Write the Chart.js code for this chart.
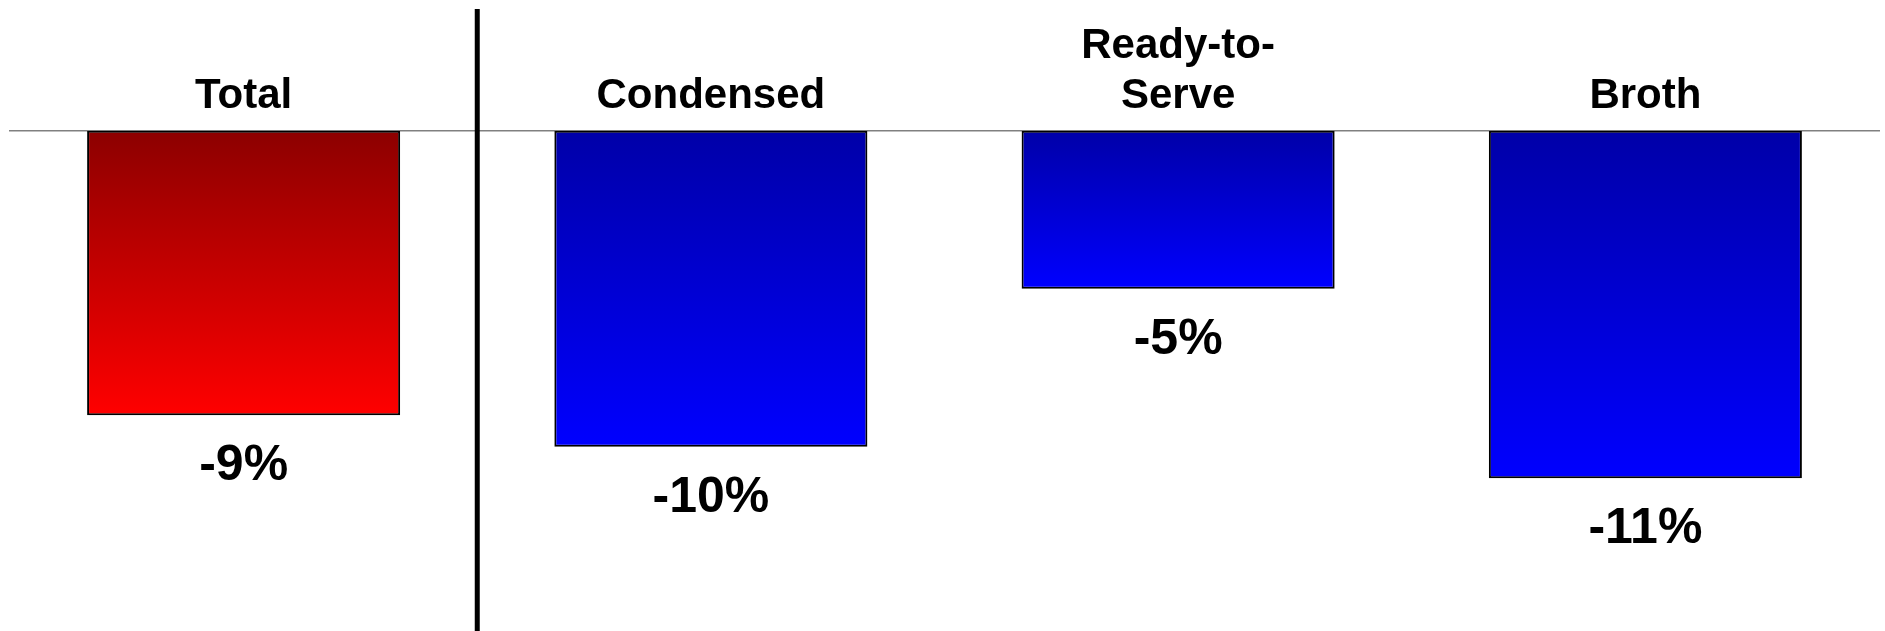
<!DOCTYPE html>
<html>
<head>
<meta charset="utf-8">
<script src="https://cdn.jsdelivr.net/npm/chart.js@4.4.1/dist/chart.umd.min.js"></script>
<style>
  body { margin: 0; background: #fff; }
  #wrap { width: 1885px; height: 631px; position: relative; }
</style>
</head>
<body>
<div id="wrap"><canvas id="barChart"></canvas></div>
<script>
// --- Data ---
const categories = ['Total', 'Condensed', ['Ready-to-', 'Serve'], 'Broth'];
const changePct = [-9, -10, -5, -11];
const yTicks = { min: -15.8, max: 0 };

// gradient colours (top -> bottom) per bar
const topColors = ['#8c0000', '#0000a8', '#0000a8', '#0000a8'];
const bottomColors = ['#ff0000', '#0000ff', '#0000ff', '#0000ff'];

const FONT = '"Liberation Sans", Arial, Helvetica, sans-serif';

function barGradient(ctx) {
    const chart = ctx.chart;
    if (!chart.chartArea || ctx.type !== 'data') return bottomColors[ctx.dataIndex];
    const y = chart.scales.y;
    const y0 = y.getPixelForValue(0);
    const y1 = y.getPixelForValue(ctx.raw);
    const g = chart.ctx.createLinearGradient(0, y0, 0, y1);
    g.addColorStop(0, topColors[ctx.dataIndex]);
    g.addColorStop(1, bottomColors[ctx.dataIndex]);
    return g;
}

// value labels under each bar + separator between Total and the rest
const extrasPlugin = {
    id: 'extras',
    afterDatasetsDraw(chart) {
        const c = chart.ctx;
        const meta = chart.getDatasetMeta(0);
        c.save();
        c.fillStyle = '#000';
        c.font = 'bold 50px ' + FONT;
        c.textAlign = 'center';
        c.textBaseline = 'alphabetic';
        meta.data.forEach((bar, i) => {
            c.fillText(changePct[i] + '%', bar.x, bar.y + 65);
        });

        // vertical divider
        const x = chart.scales.x;
        const sepX = (x.getPixelForValue(0) + x.getPixelForValue(1)) / 2;
        c.strokeStyle = '#000';
        c.lineWidth = 5;
        c.beginPath();
        c.moveTo(sepX, 9);
        c.lineTo(sepX, chart.height);
        c.stroke();
        c.restore();
    }
};

new Chart(document.getElementById('barChart'), {
    type: 'bar',
    data: {
        labels: categories,
        datasets: [{
            data: changePct,
            backgroundColor: barGradient,
            borderColor: '#000',
            borderWidth: 2,
            borderSkipped: false,
            categoryPercentage: 1,
            barPercentage: 0.67
        }]
    },
    options: {
        responsive: true,
        maintainAspectRatio: false,
        animation: false,
        layout: { padding: { top: 12, left: 10, right: 6, bottom: 1 } },
        scales: {
            x: {
                position: 'top',
                offset: true,
                grid: { display: false, drawTicks: false },
                border: { display: true, color: '#808080', width: 1.5 },
                ticks: {
                    color: '#000',
                    padding: 9,
                    maxRotation: 0,
                    autoSkip: false,
                    font: { family: FONT, size: 42, weight: 'bold', lineHeight: 1.2 }
                }
            },
            y: {
                display: false,
                min: yTicks.min,
                max: yTicks.max
            }
        },
        plugins: {
            legend: { display: false },
            tooltip: { enabled: false }
        }
    },
    plugins: [extrasPlugin]
});
</script>
</body>
</html>
